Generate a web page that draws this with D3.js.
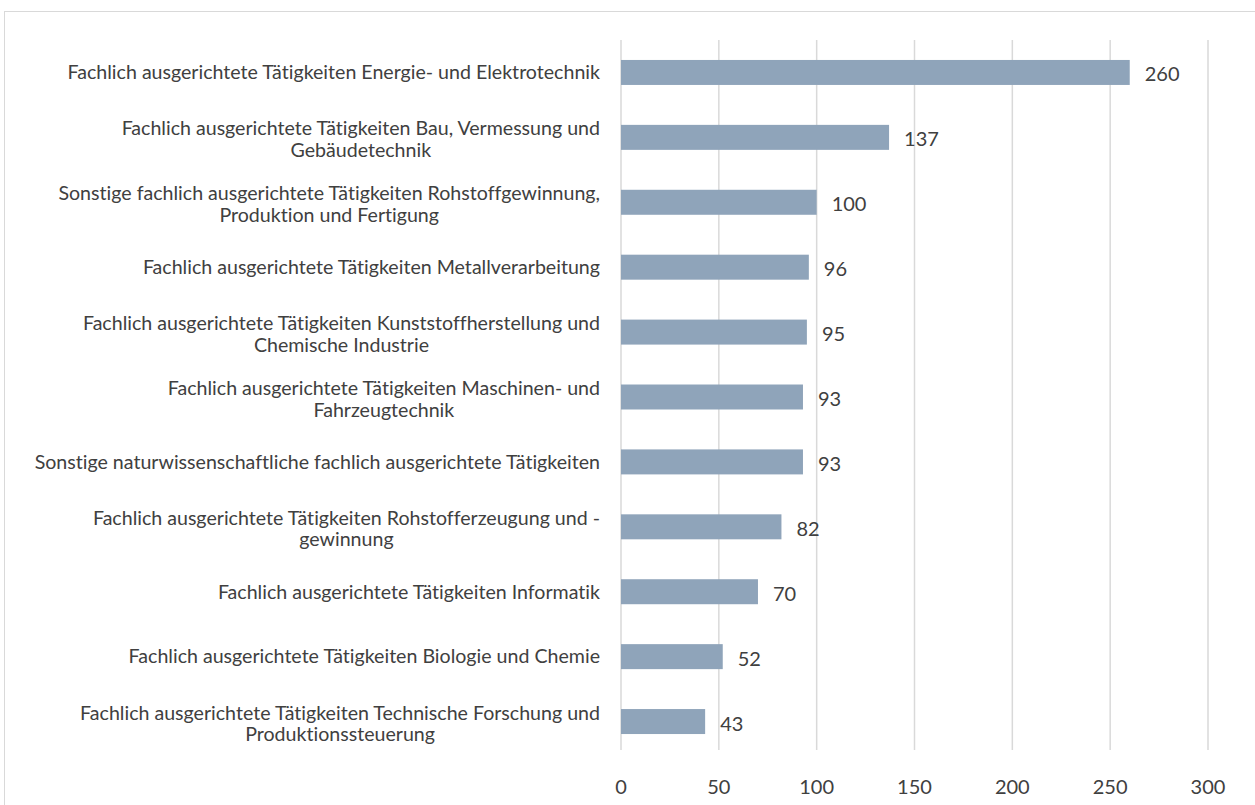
<!DOCTYPE html>
<html>
<head>
<meta charset="utf-8">
<script src="https://cdn.jsdelivr.net/npm/d3@7"></script>
<style>
body { margin: 0; background: #fff; }
text { font-family: Lato, "Open Sans", sans-serif; fill: #404040; font-variant-ligatures: none; }
</style>
</head>
<body>
<svg id="chart" width="1255" height="805"></svg>
<script>
var svg = d3.select("#chart")
var width = +svg.attr("width"), height = +svg.attr("height")

// Data
var categories = [
    ["Fachlich ausgerichtete Tätigkeiten Energie- und Elektrotechnik"],
    ["Fachlich ausgerichtete Tätigkeiten Bau, Vermessung und", "Gebäudetechnik"],
    ["Sonstige fachlich ausgerichtete Tätigkeiten Rohstoffgewinnung,", "Produktion und Fertigung"],
    ["Fachlich ausgerichtete Tätigkeiten Metallverarbeitung"],
    ["Fachlich ausgerichtete Tätigkeiten Kunststoffherstellung und", "Chemische Industrie"],
    ["Fachlich ausgerichtete Tätigkeiten Maschinen- und", "Fahrzeugtechnik"],
    ["Sonstige naturwissenschaftliche fachlich ausgerichtete Tätigkeiten"],
    ["Fachlich ausgerichtete Tätigkeiten Rohstofferzeugung und -", "gewinnung"],
    ["Fachlich ausgerichtete Tätigkeiten Informatik"],
    ["Fachlich ausgerichtete Tätigkeiten Biologie und Chemie"],
    ["Fachlich ausgerichtete Tätigkeiten Technische Forschung und", "Produktionssteuerung"]
]
var values = [260, 137, 100, 96, 95, 93, 93, 82, 70, 52, 43]
var xTicks = [0, 50, 100, 150, 200, 250, 300]

var barColor = "#8fa4ba", gridColor = "#d9d9d9"
var labelSize = 19.6, numSize = 20

// frame
svg.append("rect")
    .attr("x", 4.5).attr("y", 11.5)
    .attr("width", width + 20).attr("height", height + 20)
    .attr("fill", "none").attr("stroke", gridColor).attr("stroke-width", 1)

var ids = categories.map((d, i) => i)
var x = d3.scaleLinear().domain([0, 300]).range([621, 1208])
var y = d3.scaleBand().domain(ids).range([40, 754])
    .paddingInner(0.615).paddingOuter(0.3075)

// gridlines
svg.selectAll(".grid")
    .data(xTicks)
    .enter().append("line")
    .attr("x1", d => x(d)).attr("x2", d => x(d))
    .attr("y1", 40).attr("y2", 750)
    .attr("stroke", gridColor).attr("stroke-width", 1.5)

// x tick labels
svg.selectAll(".tick")
    .data(xTicks)
    .enter().append("text")
    .attr("x", d => x(d)).attr("y", 787)
    .attr("dy", "0.35em")
    .attr("text-anchor", "middle")
    .style("font-size", numSize + "px")
    .text(d => d)

// bars
svg.selectAll(".bar")
    .data(values)
    .enter().append("rect")
    .attr("x", x(0))
    .attr("y", (d, i) => y(i))
    .attr("width", d => x(d) - x(0))
    .attr("height", y.bandwidth())
    .attr("fill", barColor)

// value labels
svg.selectAll(".val")
    .data(values)
    .enter().append("text")
    .attr("x", d => x(d) + 15)
    .attr("y", (d, i) => y(i) + y.bandwidth() / 2 + 2)
    .attr("dy", "0.35em")
    .style("font-size", numSize + "px")
    .text(d => d)

// category labels
var labelRight = 600, lineH = 21.5
categories.forEach(function(lines, i) {
    var cy = y(i) + y.bandwidth() / 2
    var g = svg.append("g")
    var texts = lines.map(function(s, j) {
        return g.append("text")
            .attr("y", cy + (j - (lines.length - 1) / 2) * lineH + (lines.length > 1 ? 2 : 0))
            .attr("dy", "0.35em")
            .style("font-size", labelSize + "px")
            .text(s)
    })
    var w = d3.max(texts, t => t.node().getComputedTextLength())
    var center = labelRight - w / 2
    texts.forEach(t => t.attr("x", center).attr("text-anchor", "middle"))
})
</script>
</body>
</html>
